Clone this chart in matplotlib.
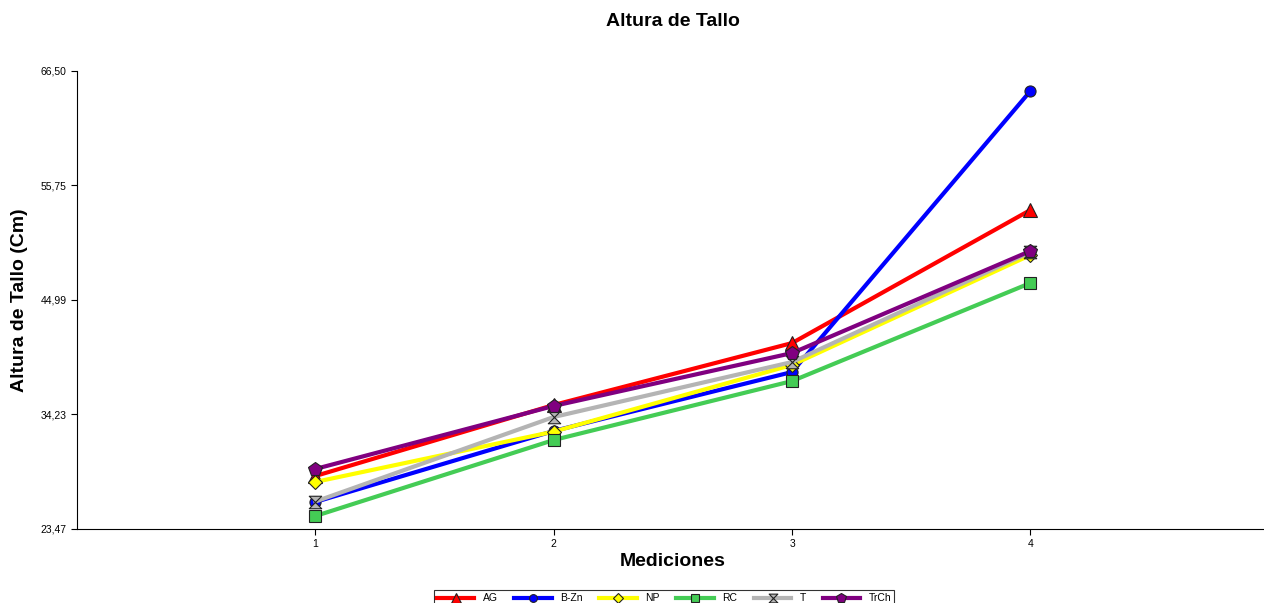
"""Altura de Tallo por tratamiento a lo largo de las mediciones."""

import matplotlib
matplotlib.use("Agg")
import matplotlib.pyplot as plt  # noqa: E402
from matplotlib.path import Path  # noqa: E402

plt.rcParams["font.family"] = ["Liberation Sans", "DejaVu Sans"]

mediciones = [1, 2, 3, 4]
tratamientos = ["AG", "B-Zn", "NP", "RC", "T", "TrCh"]

ag = [28.45, 35.12, 40.94, 53.44]
b_zn = [26.01, 32.68, 38.22, 64.62]
np_ = [27.89, 32.62, 38.88, 49.21]
rc = [24.69, 31.83, 37.37, 46.58]
t = [26.05, 33.99, 39.16, 49.49]
trch = [29.11, 35.03, 40.00, 49.59]

y_ticks = [23.47, 34.23, 44.99, 55.75, 66.50]

# hourglass marker for T
hourglass = Path([(-1, 1), (1, 1), (-1, -1), (1, -1), (-1, 1)],
                 [Path.MOVETO, Path.LINETO, Path.LINETO, Path.LINETO, Path.CLOSEPOLY])

series = [
    (ag, "#ff0000", "^", 10),
    (b_zn, "#0000ff", "o", 8),
    (np_, "#ffff00", "D", 7),
    (rc, "#44cc55", "s", 8),
    (t, "#b4b4b4", hourglass, 9),
    (trch, "#800080", "p", 10),
]

fig = plt.figure(figsize=(12.64, 6.03), dpi=100)
ax = fig.add_axes([77 / 1264, 1 - 529 / 603, 1 - 77 / 1264, (529 - 71) / 603])

for (vals, col, mk, ms), name in zip(series, tratamientos):
    ax.plot(mediciones, vals, color=col, lw=3, marker=mk, ms=ms,
            mfc=col, mec="#222222", mew=0.8, label=name)

ax.set_xlim(0, 4.98)
ax.set_ylim(23.47, 66.50)
ax.set_xticks(mediciones)
ax.set_yticks(y_ticks)
ax.set_yticklabels([f"{v:.2f}".replace(".", ",") for v in y_ticks])
ax.tick_params(labelsize=7.5, length=4, width=0.8, colors="black")
for s in ("top", "right"):
    ax.spines[s].set_visible(False)

ax.set_xlabel("Mediciones", fontsize=14, fontweight="bold")
ax.xaxis.set_label_coords((673 - 77) / 1187, -(553 - 529) / 458)
ax.set_ylabel("Altura de Tallo (Cm)", fontsize=14, fontweight="bold")
ax.yaxis.set_label_coords((28 - 77) / 1187, (529 - 300) / 458)
fig.text(673 / 1264, 1 - 21 / 603, "Altura de Tallo", ha="center", va="center",
         fontsize=14, fontweight="bold")

leg = fig.legend(loc="upper center", bbox_to_anchor=(664 / 1264, 1 - 585 / 603),
                 ncol=6, fontsize=7.5, frameon=True, fancybox=False, markerscale=0.7,
                 handlelength=3.6, columnspacing=1.6, borderpad=0.3)
leg.get_frame().set_edgecolor("black")
leg.get_frame().set_linewidth(0.8)

fig.savefig("out.png", dpi=100)
